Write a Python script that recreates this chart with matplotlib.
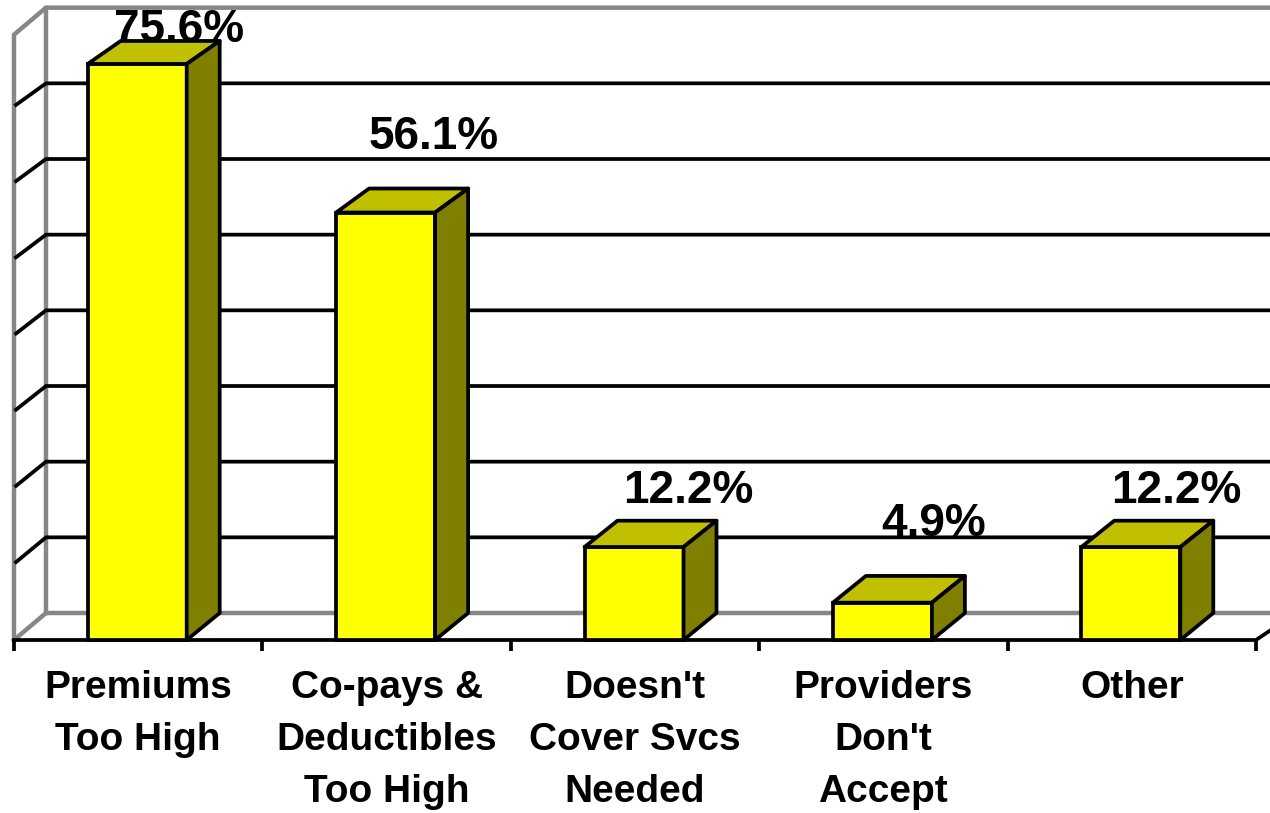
import matplotlib
matplotlib.use('Agg')
import matplotlib.pyplot as plt

categories = ["Premiums\nToo High", "Co-pays &\nDeductibles\nToo High",
              "Doesn't\nCover Svcs\nNeeded", "Providers\nDon't\nAccept", "Other"]
values = [75.6, 56.1, 12.2, 4.9, 12.2]
value_labels = ["75.6%", "56.1%", "12.2%", "4.9%", "12.2%"]
grid_values = [0, 10, 20, 30, 40, 50, 60, 70, 80]

plt.rcParams['font.family'] = ['Liberation Sans', 'DejaVu Sans']

W, H = 1270, 813
PX_X = 248.4    # pixels per category
PX_Y = 7.62     # pixels per percent
LEFT, BASE = 14, 640

fig = plt.figure(figsize=(W / 100, H / 100), dpi=100)
ax = fig.add_axes([0, 0, 1, 1])
ax.set_xlim(-LEFT / PX_X, (W - LEFT) / PX_X)
ax.set_ylim(-(H - BASE) / PX_Y, BASE / PX_Y)
ax.axis('off')

# depth of the 3D box in data units, the back plane is slightly smaller
dx = 33 / PX_X
dy = 27 / PX_Y
back = 0.993
bar_w = 99 / PX_X
lw = 2.7
n = len(values)
wall_dx = 32 / PX_X
right = n + 0.06

# grey walls and floor
GREY = '#868686'
top = grid_values[-1]
ax.plot([0, 0, wall_dx, right], [0, top * back, top * back + dy, top * back + dy], color=GREY, lw=lw + 0.5, zorder=1, solid_joinstyle='miter')
ax.plot([wall_dx, wall_dx], [dy, top * back + dy], color=GREY, lw=lw + 0.5, zorder=1)
ax.plot([0, wall_dx, right], [0, dy, dy], color=GREY, lw=lw + 0.5, zorder=1, solid_joinstyle='miter')

# gridlines on the back wall with their slanted part on the side wall
for v in grid_values[1:-1]:
    ax.plot([wall_dx / 16, wall_dx, right], [v + dy / 16, v * back + dy, v * back + dy], color='black', lw=lw, zorder=2, solid_joinstyle='miter')

# front axis line and category ticks
ax.plot([0, n, right], [0, 0, 10 / PX_Y], color='black', lw=lw, zorder=5, solid_joinstyle='miter')
ax.vlines(range(n + 1), -11 / PX_Y, 0, color='black', lw=lw, zorder=5)

label_y = [42, 149, 503, 536, 503]   # text baselines in pixels from the top
label_x = [179, 434, 688, 934, 1176]
for i, v in enumerate(values):
    ax.text((label_x[i] - LEFT) / PX_X, (BASE - label_y[i]) / PX_Y, value_labels[i],
            ha='center', va='baseline', fontsize=33, fontweight='bold', zorder=7)
    x0 = i + 0.5 - 1 / PX_X - bar_w / 2
    x1 = x0 + bar_w
    vb = v * back + dy
    ax.bar(x0, v, width=bar_w, align='edge', color='#FFFF00', edgecolor='black', linewidth=lw, zorder=6)
    ax.fill([x0, x0 + dx, x1 + dx, x1], [v, vb, vb, v], facecolor='#C0C000', edgecolor='black', linewidth=lw, joinstyle='round', zorder=6)
    ax.fill([x1, x1 + dx, x1 + dx, x1], [0, dy, vb, v], facecolor='#808000', edgecolor='black', linewidth=lw, joinstyle='round', zorder=6)
    ax.text(i + 0.5, -(684 - BASE - 14) / PX_Y, categories[i], ha='center', va='top',
            fontsize=28, fontweight='bold', linespacing=1.58, zorder=6)

fig.savefig('out.png', dpi=100)
